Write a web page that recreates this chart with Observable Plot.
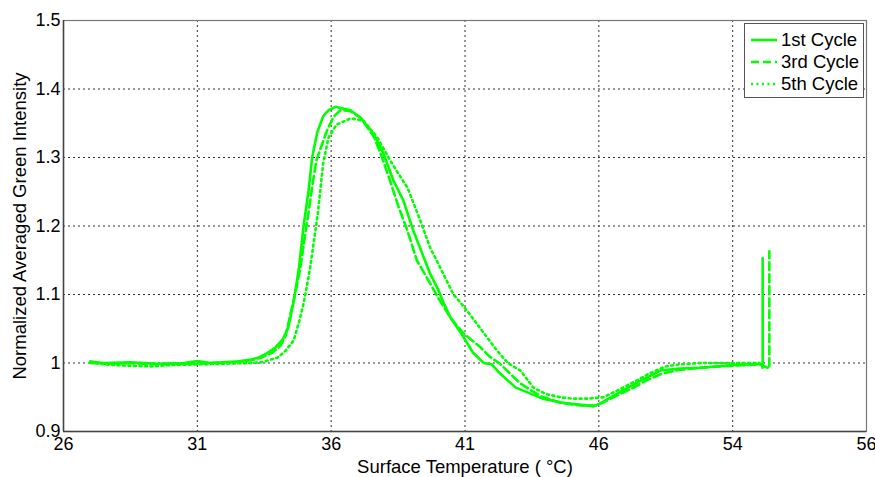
<!DOCTYPE html>
<html><head><meta charset="utf-8">
<script src="https://cdn.jsdelivr.net/npm/d3@7"></script>
<script src="https://cdn.jsdelivr.net/npm/@observablehq/plot@0.6"></script>
<style>
body{margin:0;background:#fff;font-family:"Liberation Sans",Arial,sans-serif;}
#wrap{position:relative;width:875px;height:477px;}
#wrap svg text{font-size:18px;fill:#000;}
#wrap svg g[aria-label="x-axis label"] text, #wrap svg g[aria-label="y-axis label"] text{font-size:18.5px;}
#legend{position:absolute;left:744px;top:23px;width:118px;height:73px;border:1px solid #555;background:#fff;font-size:18.5px;color:#000;}
.row{position:absolute;left:5px;height:22px;display:flex;align-items:center;white-space:nowrap;}
.row svg{margin-right:3px;}
</style></head>
<body><div id="wrap"></div>
<script>
const seriesNames = ["1st Cycle", "3rd Cycle", "5th Cycle"];
const c1x = [27.0,27.5,28.5,29.5,30.5,31.0,31.5,32.5,33.0,33.3,33.6,33.9,34.2,34.4,34.6,34.8,34.97,35.15,35.29,35.48,35.7,35.9,36.16,36.4,36.72,37.1,37.58,37.95,38.33,38.7,39.07,39.4,39.7,40.0,40.2,40.46,40.83,41.3,41.7,42.0,42.3,42.9,43.9,44.8,45.8,46.06,46.9,47.6,48.3,49.0,49.8,51.0,52.1,52.12,52.12];
const c1y = [1.002,1.0,1.001,0.999,1.0,1.003,1.0,1.002,1.005,1.008,1.014,1.022,1.035,1.052,1.09,1.14,1.20,1.25,1.30,1.337,1.36,1.369,1.374,1.372,1.369,1.358,1.335,1.306,1.266,1.237,1.193,1.16,1.13,1.107,1.088,1.066,1.045,1.015,1.0,0.998,0.985,0.964,0.948,0.941,0.937,0.941,0.960,0.975,0.989,0.992,0.993,0.997,0.999,0.993,1.153];
const c3x = [27.0,27.5,28.5,29.5,30.5,31.5,32.5,33.0,33.4,33.8,34.1,34.3,34.48,34.65,34.85,35.0,35.15,35.3,35.45,35.62,35.85,36.1,36.35,36.7,37.1,37.6,37.9,38.2,38.5,38.85,39.2,39.7,40.0,40.46,40.9,41.2,41.58,41.9,42.3,42.7,43.07,43.8,44.56,45.3,45.9,46.3,46.8,47.3,47.8,48.4,49.0,49.8,51.0,52.0,52.37,52.37];
const c3y = [1.0,0.999,1.0,0.998,0.999,1.0,1.002,1.004,1.008,1.015,1.025,1.04,1.072,1.10,1.139,1.18,1.218,1.26,1.296,1.315,1.34,1.36,1.369,1.368,1.358,1.33,1.30,1.266,1.23,1.193,1.15,1.116,1.095,1.066,1.045,1.035,1.023,1.01,0.999,0.984,0.970,0.952,0.942,0.938,0.938,0.945,0.955,0.964,0.975,0.985,0.990,0.993,0.996,0.998,0.992,1.163];
const c5x = [27.0,27.5,28.5,29.25,30.0,31.0,32.0,33.0,33.4,34.0,34.3,34.6,34.8,34.97,35.2,35.5,35.7,35.9,36.2,36.72,37.2,37.73,38.2,38.5,38.85,39.33,39.7,40.0,40.57,40.9,41.2,41.58,42.2,42.6,43.07,43.56,44.0,44.56,45.0,45.57,46.17,46.7,47.3,47.9,48.5,49.0,49.8,51.0,52.0];
const c5y = [1.002,0.998,0.996,0.995,0.997,0.998,0.999,1.0,1.001,1.008,1.018,1.033,1.06,1.087,1.135,1.218,1.291,1.329,1.348,1.357,1.354,1.329,1.296,1.277,1.256,1.208,1.168,1.145,1.10,1.085,1.07,1.05,1.018,1.0,0.989,0.964,0.955,0.950,0.948,0.948,0.950,0.960,0.972,0.985,0.995,0.998,1.0,1.0,1.0];
const xTickValues = [26,31,36,41,46,51,56];
const xTickLabels = ["26","31","36","41","46","54","56"];
const yTickValues = [0.9,1.0,1.1,1.2,1.3,1.4,1.5];
const yTickLabels = ["0.9","1","1.1","1.2","1.3","1.4","1.5"];

const s1 = c1x.map((x,i)=>({x, y:c1y[i]}));
const s3 = c3x.map((x,i)=>({x, y:c3y[i]}));
const s5 = c5x.map((x,i)=>({x, y:c5y[i]}));
const green = "#00ff00";

const chart = Plot.plot({
  width: 875, height: 477,
  marginLeft: 63, marginRight: 9, marginTop: 20, marginBottom: 46,
  style: {fontFamily: '"Liberation Sans", Arial, sans-serif', fontSize: "18px", color: "#000", background: "#fff"},
  x: {domain: [26,56]},
  y: {domain: [0.9,1.5]},
  marks: [
    Plot.gridX(xTickValues, {stroke: "#333", strokeOpacity: 1, strokeDasharray: "2,3", strokeWidth: 1}),
    Plot.gridY(yTickValues, {stroke: "#333", strokeOpacity: 1, strokeDasharray: "2,3", strokeWidth: 1}),
    Plot.frame({stroke: "#777", strokeWidth: 1.2}),
    Plot.axisX(xTickValues, {tickSize: 0, tickPadding: 6, tickFormat: d => xTickLabels[xTickValues.indexOf(d)], label: "Surface Temperature ( °C)", labelAnchor: "center", labelArrow: false, labelOffset: 41}),
    Plot.axisY(yTickValues, {tickSize: 0, tickPadding: 3, tickFormat: d => yTickLabels[yTickValues.findIndex(v => Math.abs(v-d) < 1e-9)], label: "Normalized Averaged Green Intensity", labelAnchor: "center", labelArrow: false, labelOffset: 51}),
    Plot.ruleX([26], {stroke: "#444", strokeWidth: 1.5}),
    Plot.ruleY([0.9], {stroke: "#444", strokeWidth: 1.5}),
    Plot.line(s5, {x: "x", y: "y", stroke: green, strokeWidth: 2.6, strokeDasharray: "2,3.5", curve: "linear"}),
    Plot.line(s3, {x: "x", y: "y", stroke: green, strokeWidth: 2.6, strokeDasharray: "8,4", curve: "linear"}),
    Plot.line(s1, {x: "x", y: "y", stroke: green, strokeWidth: 2.6, curve: "linear"})
  ]
});
const wrap = document.getElementById("wrap");
wrap.appendChild(chart);

const legend = document.createElement("div");
legend.id = "legend";
const dashes = ["", "8,4", "2,3.5"];
seriesNames.forEach((name,i) => {
  const row = document.createElement("div");
  row.className = "row";
  row.style.top = (5 + i*22) + "px";
  row.innerHTML = `<svg width="28" height="10"><line x1="1" x2="27" y1="5" y2="5" stroke="${green}" stroke-width="2.6" ${dashes[i] ? `stroke-dasharray="${dashes[i]}"` : ""}/></svg><span>${name}</span>`;
  legend.appendChild(row);
});
wrap.appendChild(legend);
</script></body></html>
